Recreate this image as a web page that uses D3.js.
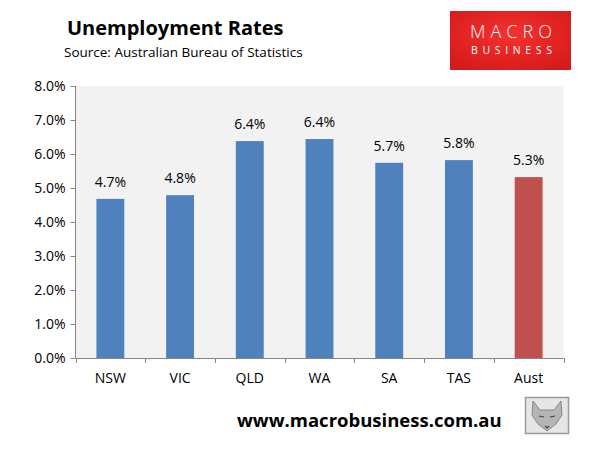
<!DOCTYPE html>
<html>
<head>
<meta charset="utf-8">
<script src="https://cdn.jsdelivr.net/npm/d3@7"></script>
<style>
  body { margin: 0; background: white; }
  text { font-family: "Open Sans", "Liberation Sans", sans-serif; fill: #000; }
</style>
</head>
<body>
<div id="chart"></div>
<script>
const states = ["NSW", "VIC", "QLD", "WA", "SA", "TAS", "Aust"];
const rates = [4.68, 4.79, 6.38, 6.44, 5.74, 5.82, 5.32];
const rateLabels = ["4.7%", "4.8%", "6.4%", "6.4%", "5.7%", "5.8%", "5.3%"];
const yTicks = [0, 1, 2, 3, 4, 5, 6, 7, 8];

const WIDTH = 590;
const HEIGHT = 456;
const plot = { left: 75.5, right: 563.5, top: 86, bottom: 358 };

const svg = d3
  .select("#chart")
  .append("svg")
  .attr("width", WIDTH)
  .attr("height", HEIGHT);

//Scales
const x = d3
  .scaleBand()
  .domain(states)
  .range([plot.left, plot.right])
  .paddingInner(0.6)
  .paddingOuter(0.3);

const xTicks = d3
  .scaleBand()
  .domain(states)
  .range([plot.left, plot.right]);

const y = d3.scaleLinear().domain([0, 8]).range([plot.bottom, plot.top]);

//Plot background
svg
  .append("rect")
  .attr("x", plot.left)
  .attr("y", plot.top)
  .attr("width", plot.right - plot.left)
  .attr("height", plot.bottom - plot.top)
  .attr("fill", "#f2f2f2");

//Bars
svg
  .selectAll(".bar")
  .data(states)
  .enter()
  .append("rect")
  .attr("class", "bar")
  .attr("x", (d) => x(d))
  .attr("width", x.bandwidth())
  .attr("y", (d, i) => y(rates[i]))
  .attr("height", (d, i) => y(0) - y(rates[i]))
  .attr("fill", (d) => (d === "Aust" ? "#c0504d" : "#4f81bd"));

//Bar labels
svg
  .selectAll(".barLabel")
  .data(states)
  .enter()
  .append("text")
  .attr("class", "barLabel")
  .attr("x", (d) => x(d) + x.bandwidth() / 2)
  .attr("y", (d, i) => y(rates[i]) - 12)
  .attr("text-anchor", "middle")
  .style("font-size", "14px")
  .text((d, i) => rateLabels[i]);

//Y axis
const yAxis = d3
  .axisLeft(y)
  .tickValues(yTicks)
  .tickSize(5)
  .tickPadding(5)
  .tickFormat((d) => d.toFixed(1) + "%");

svg
  .append("g")
  .attr("transform", "translate(" + plot.left + ",0)")
  .call(yAxis)
  .call((g) => g.selectAll("line, path").attr("stroke", "#868686"))
  .call((g) => g.selectAll("text").style("font-size", "14px").attr("font-family", null))
  .call((g) => g.select(".domain").attr("d", "M0," + plot.top + "V" + plot.bottom));

//X axis
svg
  .append("line")
  .attr("x1", plot.left)
  .attr("x2", plot.right)
  .attr("y1", plot.bottom + 0.5)
  .attr("y2", plot.bottom + 0.5)
  .attr("stroke", "#868686");

svg
  .selectAll(".xTick")
  .data(states.concat(["end"]))
  .enter()
  .append("line")
  .attr("class", "xTick")
  .attr("x1", (d) => Math.round(d === "end" ? plot.right : xTicks(d)) + 0.5)
  .attr("x2", (d) => Math.round(d === "end" ? plot.right : xTicks(d)) + 0.5)
  .attr("y1", plot.bottom)
  .attr("y2", plot.bottom + 5)
  .attr("stroke", "#868686");

svg
  .selectAll(".xLabel")
  .data(states)
  .enter()
  .append("text")
  .attr("class", "xLabel")
  .attr("x", (d) => xTicks(d) + xTicks.bandwidth() / 2)
  .attr("y", 383)
  .attr("text-anchor", "middle")
  .style("font-size", "14px")
  .text((d) => d);

//Titles
svg
  .append("text")
  .attr("x", 67)
  .attr("y", 35)
  .style("font-size", "20px")
  .style("font-weight", "bold")
  .text("Unemployment Rates");

svg
  .append("text")
  .attr("x", 64)
  .attr("y", 57)
  .style("font-size", "13.5px")
  .text("Source: Australian Bureau of Statistics");

//Logo
const grad = svg
  .append("defs")
  .append("radialGradient")
  .attr("id", "logoGrad")
  .attr("cx", "50%")
  .attr("cy", "40%")
  .attr("r", "70%");
grad.append("stop").attr("offset", "0%").attr("stop-color", "#f5312f");
grad.append("stop").attr("offset", "100%").attr("stop-color", "#d41a1a");

svg
  .append("rect")
  .attr("x", 450)
  .attr("y", 11)
  .attr("width", 121)
  .attr("height", 59)
  .attr("fill", "url(#logoGrad)");

svg
  .append("text")
  .attr("x", 470)
  .attr("y", 38)
  .attr("textLength", 82)
  .attr("lengthAdjust", "spacing")
  .style("font-size", "18px")
  .style("font-weight", "300")
  .style("fill", "white")
  .text("MACRO");

svg
  .append("text")
  .attr("x", 471)
  .attr("y", 54)
  .attr("textLength", 81)
  .attr("lengthAdjust", "spacing")
  .style("font-size", "10.5px")
  .style("fill", "white")
  .text("BUSINESS");

//Footer
svg
  .append("text")
  .attr("x", 237)
  .attr("y", 427)
  .style("font-size", "18.5px")
  .style("font-weight", "bold")
  .text("www.macrobusiness.com.au");

//Wolf badge
const badge = svg.append("g").attr("transform", "translate(525,397)");
badge
  .append("rect")
  .attr("x", 0.5)
  .attr("y", 0.5)
  .attr("width", 43)
  .attr("height", 36)
  .attr("fill", "#e6e6e6")
  .attr("stroke", "#9a9a9a")
  .attr("stroke-width", 1.5);
badge
  .append("path")
  .attr("d", "M8,4 L15,13 L29,13 L36,4 L37,18 L31,27 L22,34 L13,27 L7,18 Z")
  .attr("fill", "#b5b5b5")
  .attr("stroke", "#777")
  .attr("stroke-width", 0.8);
badge
  .append("path")
  .attr("d", "M14,19 L19,20 M25,20 L30,19 M20,29 L22,31 L24,29")
  .attr("stroke", "#444")
  .attr("stroke-width", 1.2)
  .attr("fill", "none");
</script>
</body>
</html>
